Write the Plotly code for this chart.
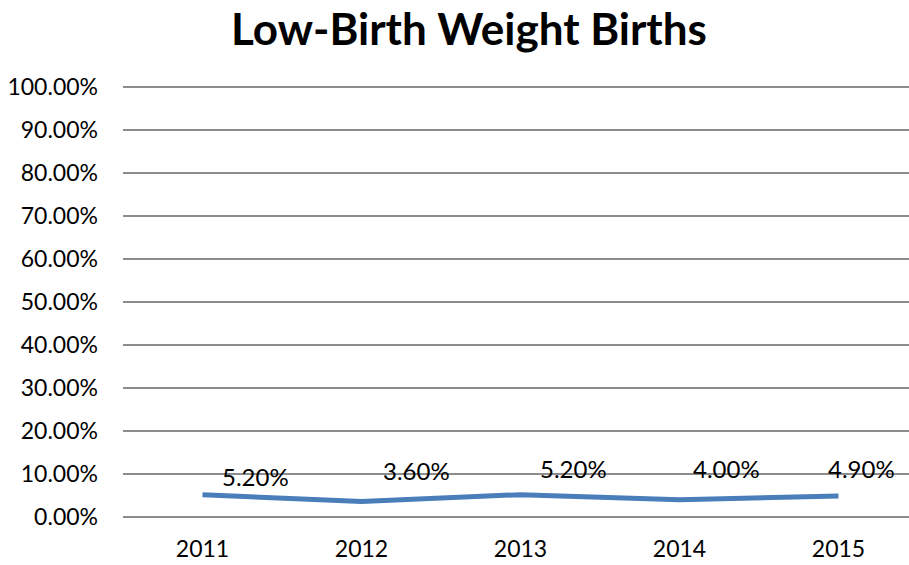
import plotly.graph_objects as go

years = ["2011", "2012", "2013", "2014", "2015"]
values = [0.052, 0.036, 0.052, 0.040, 0.049]
labels = ["5.20%", "3.60%", "5.20%", "4.00%", "4.90%"]
label_dx = [53, 55, 53, 47, 23]
label_dy = [18, 31, 26, 31, 27]

FONT = "Lato"
fig = go.Figure()
fig.add_trace(go.Scatter(
    x=list(range(len(years))), y=values, mode="lines",
    line=dict(color="#4a7ebb", width=5, shape="linear"),
    hoverinfo="skip", showlegend=False,
))
for i, (v, t) in enumerate(zip(values, labels)):
    fig.add_annotation(x=i, y=v, text=t, showarrow=False,
                       xshift=label_dx[i], yshift=label_dy[i],
                       font=dict(family=FONT, size=24, color="#000000"))

fig.update_layout(
    width=909, height=565,
    margin=dict(l=123, r=0, t=86, b=48),
    paper_bgcolor="white", plot_bgcolor="white",
    title=dict(text="<b>Low-Birth Weight Births</b>", x=469/909, xanchor="center",
               y=1 - 30/565, yanchor="middle",
               font=dict(family=FONT, size=44, color="#000000")),
    font=dict(family=FONT, size=23, color="#000000"),
)
fig.update_xaxes(
    tickmode="array", tickvals=list(range(len(years))), ticktext=years,
    range=[-0.5, -0.5 + 786/159], showgrid=False, zeroline=False,
    showline=False, ticks="", ticklabelstandoff=16,
    tickfont=dict(family=FONT, size=23),
)
fig.update_yaxes(
    range=[0, 1.003], dtick=0.1, tick0=0, tickformat=".2%",
    showgrid=True, gridcolor="#8c8c8c", gridwidth=2,
    zeroline=True, zerolinecolor="#8c8c8c", zerolinewidth=2,
    showline=False, ticks="", ticklabelstandoff=24,
    tickfont=dict(family=FONT, size=23),
)
fig.write_html("out.html", config={"displayModeBar": False},
               post_script="document.body.style.margin='0';document.body.style.overflow='hidden';")
